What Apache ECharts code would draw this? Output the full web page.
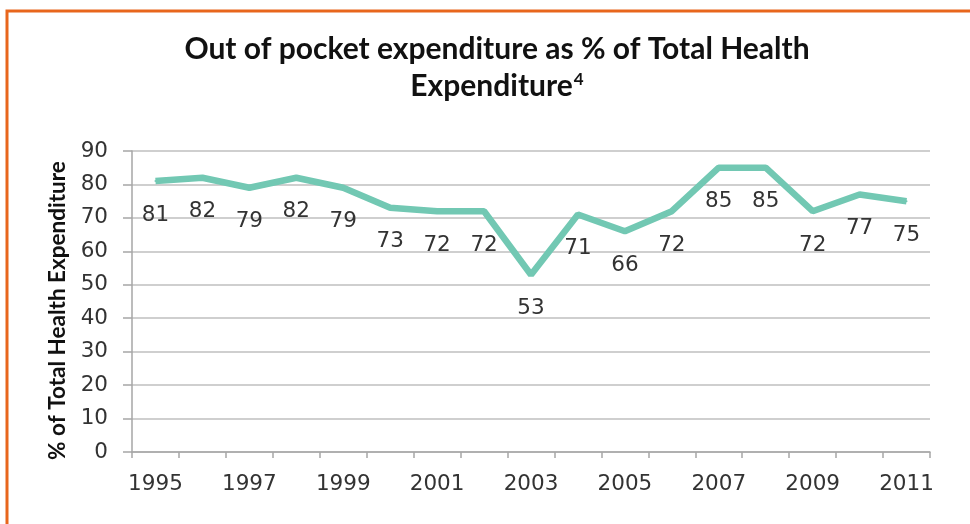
<!DOCTYPE html>
<html>
<head>
<meta charset="utf-8">
<script src="https://cdn.jsdelivr.net/npm/echarts@6/dist/echarts.min.js"></script>
<style>
html,body{margin:0;padding:0;background:#fff;}
#c{width:970px;height:524px;}
</style>
</head>
<body>
<div id="c"></div>
<script>
var years = ['1995','1996','1997','1998','1999','2000','2001','2002','2003','2004','2005','2006','2007','2008','2009','2010','2011'];
var outOfPocket = [81, 82, 79, 82, 79, 73, 72, 72, 53, 71, 66, 72, 85, 85, 72, 77, 75];
var yTicks = {min: 0, max: 90, interval: 10};
var titleLine1 = 'Out of pocket expenditure as % of Total Health';
var titleLine2 = 'Expenditure';
var titleSup = '4';
var yAxisTitle = '% of Total Health Expenditure';

var lineColor = '#72c8b3';
var chart = echarts.init(document.getElementById('c'));
chart.setOption({
  backgroundColor: '#ffffff',
  animation: false,
  title: {
    text: '{t|' + titleLine1 + '}\n{t|' + titleLine2 + '}{s|' + titleSup + '}',
    left: 492,
    textAlign: 'center',
    top: 26,
    textStyle: {
      rich: {
        t: {fontFamily: 'Lato', fontWeight: 'bold', fontSize: 30, color: '#111', lineHeight: 37},
        s: {fontFamily: 'Lato', fontWeight: 'bold', fontSize: 17, color: '#111', lineHeight: 37, padding: [0,0,14,1]}
      }
    }
  },
  graphic: [{
    type: 'polyline',
    shape: {points: [[7, 530], [7, 11], [980, 11]]},
    style: {stroke: '#e8661c', lineWidth: 3, fill: null}
  }],
  grid: {left: 132, right: 40, top: 151, bottom: 72},
  xAxis: {
    type: 'category',
    data: years,
    boundaryGap: true,
    axisLine: {lineStyle: {color: '#a6a6a6', width: 1.5}},
    axisTick: {show: true, length: 6, interval: 0, lineStyle: {color: '#a6a6a6', width: 1.5}},
    axisLabel: {interval: 1, margin: 21, fontFamily: 'DejaVu Sans', fontSize: 21.5, color: '#333'},
    splitLine: {show: false}
  },
  yAxis: {
    type: 'value',
    min: yTicks.min, max: yTicks.max, interval: yTicks.interval,
    name: yAxisTitle,
    nameLocation: 'middle',
    nameGap: 63,
    nameRotate: 90,
    nameTextStyle: {fontFamily: 'Lato', fontWeight: 'bold', fontSize: 22.5, color: '#111', padding: [0, 18, 0, 0]},
    axisLine: {show: true, lineStyle: {color: '#a6a6a6', width: 1.5}},
    axisTick: {show: true, length: 9, lineStyle: {color: '#a6a6a6', width: 1.5}},
    axisLabel: {margin: 24, fontFamily: 'DejaVu Sans', fontSize: 21.5, color: '#333'},
    splitLine: {show: true, lineStyle: {color: '#bfbfbf', width: 1.5}}
  },
  series: [{
    type: 'line',
    data: outOfPocket,
    symbol: 'circle',
    symbolSize: 2,
    showSymbol: true,
    itemStyle: {color: lineColor},
    lineStyle: {color: lineColor, width: 6.5},
    labelLayout: {hideOverlap: false},
    label: {
      show: true,
      position: 'bottom',
      distance: 22,
      fontFamily: 'DejaVu Sans',
      fontSize: 21.5,
      color: '#333'
    }
  }]
});
</script>
</body>
</html>
